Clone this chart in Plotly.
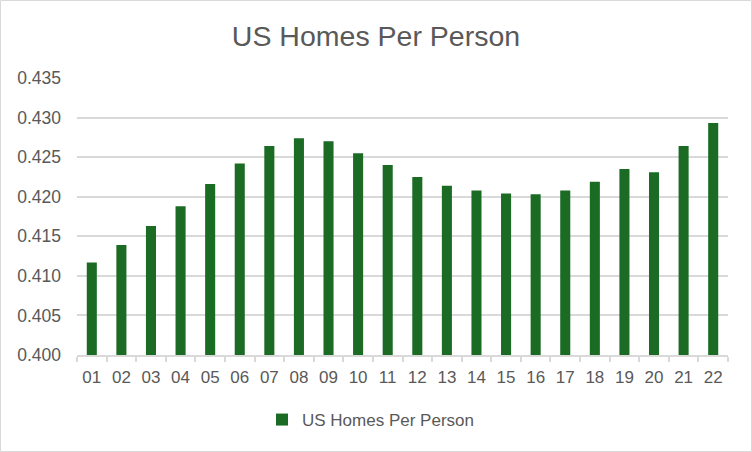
import plotly.graph_objects as go

categories = ["01", "02", "03", "04", "05", "06", "07", "08", "09", "10", "11",
              "12", "13", "14", "15", "16", "17", "18", "19", "20", "21", "22"]
homes_per_person = [0.4117, 0.4139, 0.4163, 0.4188, 0.4216, 0.4242, 0.4264, 0.4274,
                    0.4270, 0.4255, 0.4240, 0.4225, 0.4214, 0.4208, 0.4204, 0.4203,
                    0.4208, 0.4219, 0.4235, 0.4231, 0.4264, 0.4293]
y_ticks = [0.400, 0.405, 0.410, 0.415, 0.420, 0.425, 0.430, 0.435]

W, H = 752, 452
L, R, T, B = 77, 24, 78, 97
pw, ph = W - L - R, H - T - B

fig = go.Figure()
fig.add_trace(go.Bar(
    x=categories, y=homes_per_person, name="US Homes Per Person",
    marker=dict(color="#1B6B25", line=dict(width=0)),
    width=0.34,
))

FONT = "Liberation Sans, Arial, sans-serif"
GREY = "#595959"
fig.update_layout(
    width=W, height=H,
    margin=dict(l=L, r=R, t=T, b=B),
    paper_bgcolor="white", plot_bgcolor="white",
    title=dict(text="US Homes Per Person", x=0.5, xanchor="center",
               y=1 - 36 / H, yanchor="middle",
               font=dict(family=FONT, size=28.5, color=GREY)),
    font=dict(family=FONT, size=17, color=GREY),
    showlegend=True,
    legend=dict(orientation="h", x=(262 - L) / pw, xanchor="left",
                y=(-(420 - (H - B)) / ph), yanchor="middle",
                font=dict(size=17, color=GREY),
                itemwidth=30),
    shapes=[dict(type="rect", xref="paper", yref="paper",
                 x0=(0.5 - L) / pw, x1=(W - 0.5 - L) / pw,
                 y0=(H - B - (H - 0.5)) / ph, y1=(H - B - 0.5) / ph,
                 line=dict(color="#D9D9D9", width=1), layer="below")],
)
fig.update_xaxes(type="category", showgrid=False, showline=True,
                 linecolor="#D9D9D9", linewidth=1.5,
                 ticks="outside", tickson="boundaries", ticklen=5,
                 tickcolor="#D9D9D9", tickwidth=1.5,
                 ticklabelstandoff=6,
                 tickfont=dict(size=17, color=GREY))
fig.update_yaxes(range=[0.400, 0.435], tickvals=y_ticks,
                 tickformat=".3f", showgrid=True, gridcolor="#D9D9D9",
                 gridwidth=1.5, zeroline=False, showline=False, ticks="",
                 ticklabelstandoff=15,
                 tickfont=dict(size=17.5, color=GREY))

fig.write_html("out.html", config={"displayModeBar": False},
               post_script="document.body.style.margin='0';document.body.style.overflow='hidden';")
